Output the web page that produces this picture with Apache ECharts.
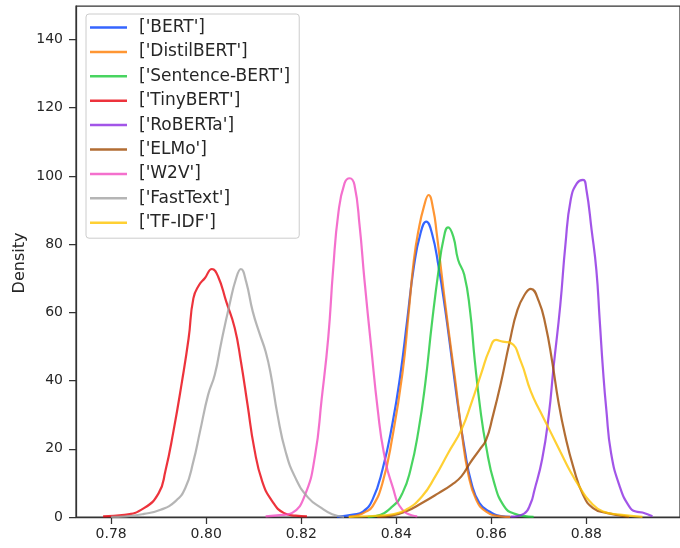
<!DOCTYPE html>
<html>
<head>
<meta charset="utf-8">
<script src="https://cdn.jsdelivr.net/npm/echarts@6/dist/echarts.min.js"></script>
<style>html,body{margin:0;padding:0;background:#fff;}#c{width:680px;height:548px;}</style>
</head>
<body>
<div id="c"></div>
<script>
const seriesNames = ["['BERT']","['DistilBERT']","['Sentence-BERT']","['TinyBERT']","['RoBERTa']","['ELMo']","['W2V']","['FastText']","['TF-IDF']"];
const colors = ['#023eff','#ff7c00','#1ac938','#e8000b','#8b2be2','#9f4800','#f14cc1','#a3a3a3','#ffc400'];
const xTicks = [0.78,0.80,0.82,0.84,0.86,0.88];
const yTicks = [0,20,40,60,80,100,120,140];

const bert = [[0.8275,0.05],[0.8309,0.7],[0.8330,1.6],[0.8350,5.1],[0.8371,13.9],[0.8392,27.5],[0.8409,42.2],[0.8423,57.8],[0.8437,73.4],[0.8451,83.2],[0.8463,86.6],[0.8475,83.2],[0.8489,73.4],[0.8503,60.7],[0.8517,46.1],[0.8530,32.4],[0.8544,19.7],[0.8558,10.0],[0.8575,4.1],[0.8596,1.6],[0.8620,0.3],[0.8640,0.05]];
const distilbert = [[0.8300,0.05],[0.8319,0.5],[0.8335,1.5],[0.8350,3.1],[0.8371,10.0],[0.8392,23.6],[0.8413,42.2],[0.8426,59.8],[0.8437,75.4],[0.8447,84.2],[0.8458,90.9],[0.8468,94.4],[0.8478,90.0],[0.8485,83.2],[0.8496,70.5],[0.8509,55.8],[0.8523,41.2],[0.8537,25.6],[0.8551,12.9],[0.8568,5.1],[0.8589,1.6],[0.8620,0.2],[0.8640,0.05]];
const sentbert = [[0.8340,0.05],[0.8357,0.3],[0.8392,3.1],[0.8413,7.0],[0.8430,13.9],[0.8447,25.6],[0.8461,39.2],[0.8475,56.8],[0.8489,72.4],[0.8499,81.2],[0.8509,84.9],[0.8520,82.2],[0.8530,75.4],[0.8543,71.0],[0.8555,60.7],[0.8565,46.1],[0.8577,31.4],[0.8589,20.7],[0.8606,10.0],[0.8627,3.1],[0.8648,1.0],[0.8689,0.05]];
const tinybert = [[0.7783,0.2],[0.7828,0.6],[0.7869,2.6],[0.7900,7.0],[0.7914,13.4],[0.7931,25.1],[0.7949,39.7],[0.7963,52.4],[0.7973,64.1],[0.7985,68.0],[0.7997,70.0],[0.8012,72.7],[0.8025,70.5],[0.8042,63.2],[0.8060,55.4],[0.8073,45.6],[0.8087,32.9],[0.8101,20.2],[0.8118,10.4],[0.8139,4.6],[0.8163,1.2],[0.8188,0.4],[0.8212,0.2]];
const roberta = [[0.8641,0.1],[0.8669,1.0],[0.8683,4.1],[0.8690,7.5],[0.8707,17.0],[0.8721,30.0],[0.8731,44.0],[0.8745,62.0],[0.8756,80.0],[0.8767,93.0],[0.8780,97.8],[0.8793,98.8],[0.8800,96.0],[0.8811,84.2],[0.8821,72.4],[0.8828,57.8],[0.8835,43.1],[0.8842,31.4],[0.8852,18.7],[0.8870,9.0],[0.8890,3.1],[0.8904,1.6],[0.8918,1.3],[0.8939,0.2]];
const elmo = [[0.8360,0.05],[0.8390,0.4],[0.8420,1.6],[0.8454,4.1],[0.8489,7.0],[0.8517,9.5],[0.8537,11.9],[0.8555,15.8],[0.8575,19.7],[0.8589,22.6],[0.8603,29.5],[0.8620,39.2],[0.8638,51.0],[0.8655,60.7],[0.8672,65.6],[0.8683,66.9],[0.8700,63.2],[0.8714,56.3],[0.8728,45.6],[0.8741,33.9],[0.8755,24.1],[0.8773,14.4],[0.8793,6.5],[0.8814,2.6],[0.8842,1.2],[0.8890,0.05]];
const w2v = [[0.8125,0.2],[0.8160,0.6],[0.8181,1.2],[0.8208,6.5],[0.8229,18.0],[0.8243,34.6],[0.8257,52.9],[0.8267,72.4],[0.8278,89.0],[0.8291,97.8],[0.8302,99.3],[0.8312,97.3],[0.8323,85.1],[0.8333,69.5],[0.8347,50.0],[0.8361,31.4],[0.8374,18.7],[0.8392,9.0],[0.8413,2.1],[0.8444,0.2]];
const fasttext = [[0.7800,0.05],[0.7831,0.2],[0.7869,0.9],[0.7904,2.1],[0.7935,4.6],[0.7956,8.5],[0.7973,16.3],[0.7987,25.1],[0.8004,35.8],[0.8018,41.7],[0.8032,51.4],[0.8049,62.2],[0.8063,70.0],[0.8073,72.7],[0.8084,69.0],[0.8098,60.2],[0.8112,53.9],[0.8125,48.5],[0.8136,41.7],[0.8150,30.0],[0.8167,19.2],[0.8188,11.4],[0.8215,5.6],[0.8243,2.6],[0.8265,0.8],[0.8290,0.05]];
const tfidf = [[0.8300,0.05],[0.8350,0.3],[0.8392,0.8],[0.8420,2.1],[0.8454,6.0],[0.8482,11.9],[0.8509,18.7],[0.8537,25.6],[0.8558,33.4],[0.8579,42.2],[0.8596,49.0],[0.8610,51.9],[0.8624,51.4],[0.8641,51.0],[0.8662,45.6],[0.8683,36.8],[0.8703,30.9],[0.8724,25.1],[0.8745,19.2],[0.8766,13.4],[0.8787,8.5],[0.8807,4.6],[0.8835,1.6],[0.8870,0.7],[0.8918,0.05]];

const allData = [bert, distilbert, sentbert, tinybert, roberta, elmo, w2v, fasttext, tfidf];

const chart = echarts.init(document.getElementById('c'), null, {renderer: 'canvas'});
const font = 'DejaVu Sans';
const axisColor = '#333';

chart.setOption({
  animation: false,
  backgroundColor: '#fff',
  grid: {left: 76, top: 6, right: -8, bottom: 31, show: true, borderColor: axisColor, borderWidth: 1.25, backgroundColor: 'transparent'},
  xAxis: {
    type: 'value', min: 0.7726, max: 0.8997,
    splitLine: {show: false},
    axisLine: {show: true, onZero: false, lineStyle: {color: axisColor, width: 1.25}},
    axisTick: {show: true, length: 7, lineStyle: {color: axisColor, width: 1.25}, customValues: xTicks},
    axisLabel: {margin: 10, color: '#262626', fontFamily: font, fontSize: 14, customValues: xTicks, formatter: v => v.toFixed(2)}
  },
  yAxis: {
    type: 'value', min: 0, max: 149.8,
    splitLine: {show: false},
    axisLine: {show: true, lineStyle: {color: axisColor, width: 1.25}},
    axisTick: {show: true, length: 7, lineStyle: {color: axisColor, width: 1.25}, customValues: yTicks},
    axisLabel: {margin: 13, color: '#262626', fontFamily: font, fontSize: 14, customValues: yTicks}
  },
  legend: {
    orient: 'vertical', left: 86, top: 14,
    icon: 'rect',
    itemWidth: 37, itemHeight: 2.5, itemGap: 7.4,
    padding: [5, 9, 7, 4],
    backgroundColor: 'rgba(255,255,255,0.8)', borderColor: '#cccccc', borderWidth: 1, borderRadius: 3,
    itemStyle: {opacity: 0.8},
    textStyle: {fontFamily: font, fontSize: 17, color: '#262626', padding: [0, 0, 0, 7]},
    data: seriesNames
  },
  graphic: [{
    type: 'text', x: 20, y: 263, rotation: Math.PI / 2,
    style: {text: 'Density', fontFamily: font, fontSize: 16, fill: '#262626', textAlign: 'center', textVerticalAlign: 'middle'}
  }],
  series: seriesNames.map((n, i) => ({
    name: n, type: 'line', data: allData[i], symbol: 'none', showSymbol: false,
    smooth: 0.5,
    color: colors[i],
    itemStyle: {color: colors[i]},
    lineStyle: {width: 2.2, color: colors[i], opacity: 0.8}
  }))
});
</script>
</body>
</html>
